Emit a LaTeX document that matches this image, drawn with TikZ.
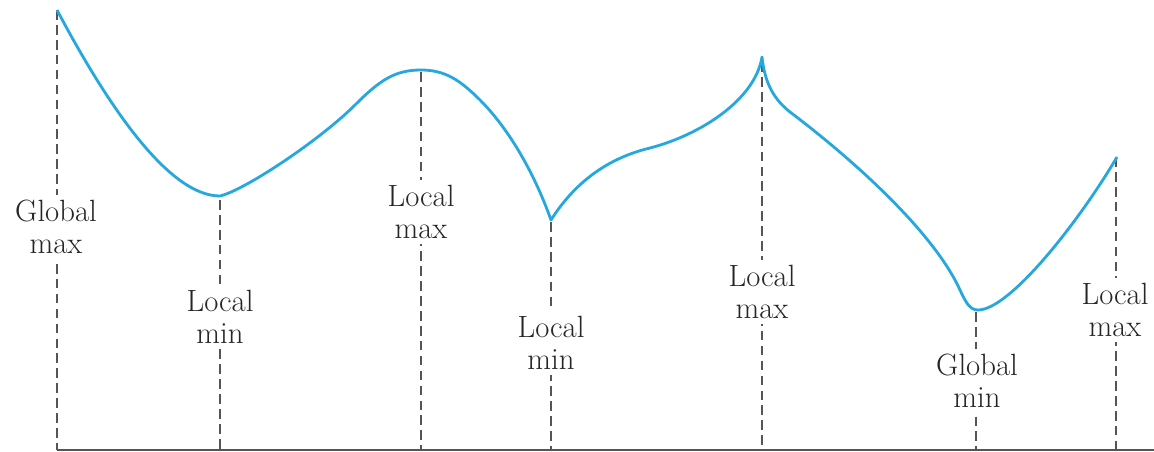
\documentclass[tikz,border=0pt]{standalone}
\usetikzlibrary{positioning}

\definecolor{curveblue}{RGB}{38,168,222}
\definecolor{dashgray}{RGB}{85,85,85}

\begin{document}
\begin{tikzpicture}[x=0.02cm, y=-0.02cm,
            curve/.style={curveblue, line width=1.6pt, line join=round},
            guide/.style={dashgray, line width=1.1pt, dash pattern=on 5.5pt off 3pt},
            lbl/.style={fill=white, align=center, inner sep=3pt, text=black!85,
                        font=\rmfamily\fontsize{17.5}{18.5}\selectfont}]

        \useasboundingbox (0,0) rectangle (1154,452);

        % points on the curve and their feet on the axis
        \coordinate (gmax) at (57,10);    \coordinate (gmaxfoot) at (57,450);
        \coordinate (lminA) at (220,200); \coordinate (lminAfoot) at (220,450);
        \coordinate (lmaxA) at (421,72);  \coordinate (lmaxAfoot) at (421,450);
        \coordinate (lminB) at (551,222); \coordinate (lminBfoot) at (551,450);
        \coordinate (lmaxB) at (762,62);  \coordinate (lmaxBfoot) at (762,450);
        \coordinate (gmin) at (976,312);  \coordinate (gminfoot) at (976,450);
        \coordinate (lmaxC) at (1116,157); \coordinate (lmaxCfoot) at (1116,450);
        \coordinate (axisend) at (1154,450);

        % axis
        \draw[dashgray, line width=0.8pt] (gmaxfoot) -- (axisend);

        % dashed guides
        \draw[guide] (gmax) -- (gmaxfoot);
        \draw[guide] (lminA) -- (lminAfoot);
        \draw[guide] (lmaxA) -- (lmaxAfoot);
        \draw[guide] (lminB) -- (lminBfoot);
        \draw[guide] (lmaxB) -- (lmaxBfoot);
        \draw[guide] (gmin) -- (gminfoot);
        \draw[guide] (lmaxC) -- (lmaxCfoot);

        % labels
        \node[lbl] (gmaxlbl) at (56,227) {Global\\max};
        \node[lbl] (lminAlbl) at (220,317) {Local\\min};
        \node[lbl] (lmaxAlbl) at (421,212) {Local\\max};
        \node[lbl] (lminBlbl) at (551,343) {Local\\min};
        \node[lbl] (lmaxBlbl) at (762,292) {Local\\max};
        \node[lbl] (gminlbl) at (977,381) {Global\\min};
        \node[lbl] (lmaxClbl) at (1115,310) {Local\\max};

        % the function
        \draw[curve] (57,10) .. controls (110,110) and (170,196) .. (220,196)
            .. controls (245,190) and (320,140) .. (355,105)
            .. controls (380,80) and (395,70) .. (421,70)
            .. controls (445,70) and (460,80) .. (480,100)
            .. controls (510,130) and (535,175) .. (551,220)
            .. controls (570,190) and (600,160) .. (650,148)
            .. controls (700,135) and (755,100) .. (762,57)
            .. controls (765,85) and (775,100) .. (790,112)
            .. controls (860,165) and (935,235) .. (960,290)
            .. controls (966,303) and (970,310) .. (978,310)
            .. controls (1010,310) and (1080,220) .. (1117,157);
    \end{tikzpicture}
\end{document}
